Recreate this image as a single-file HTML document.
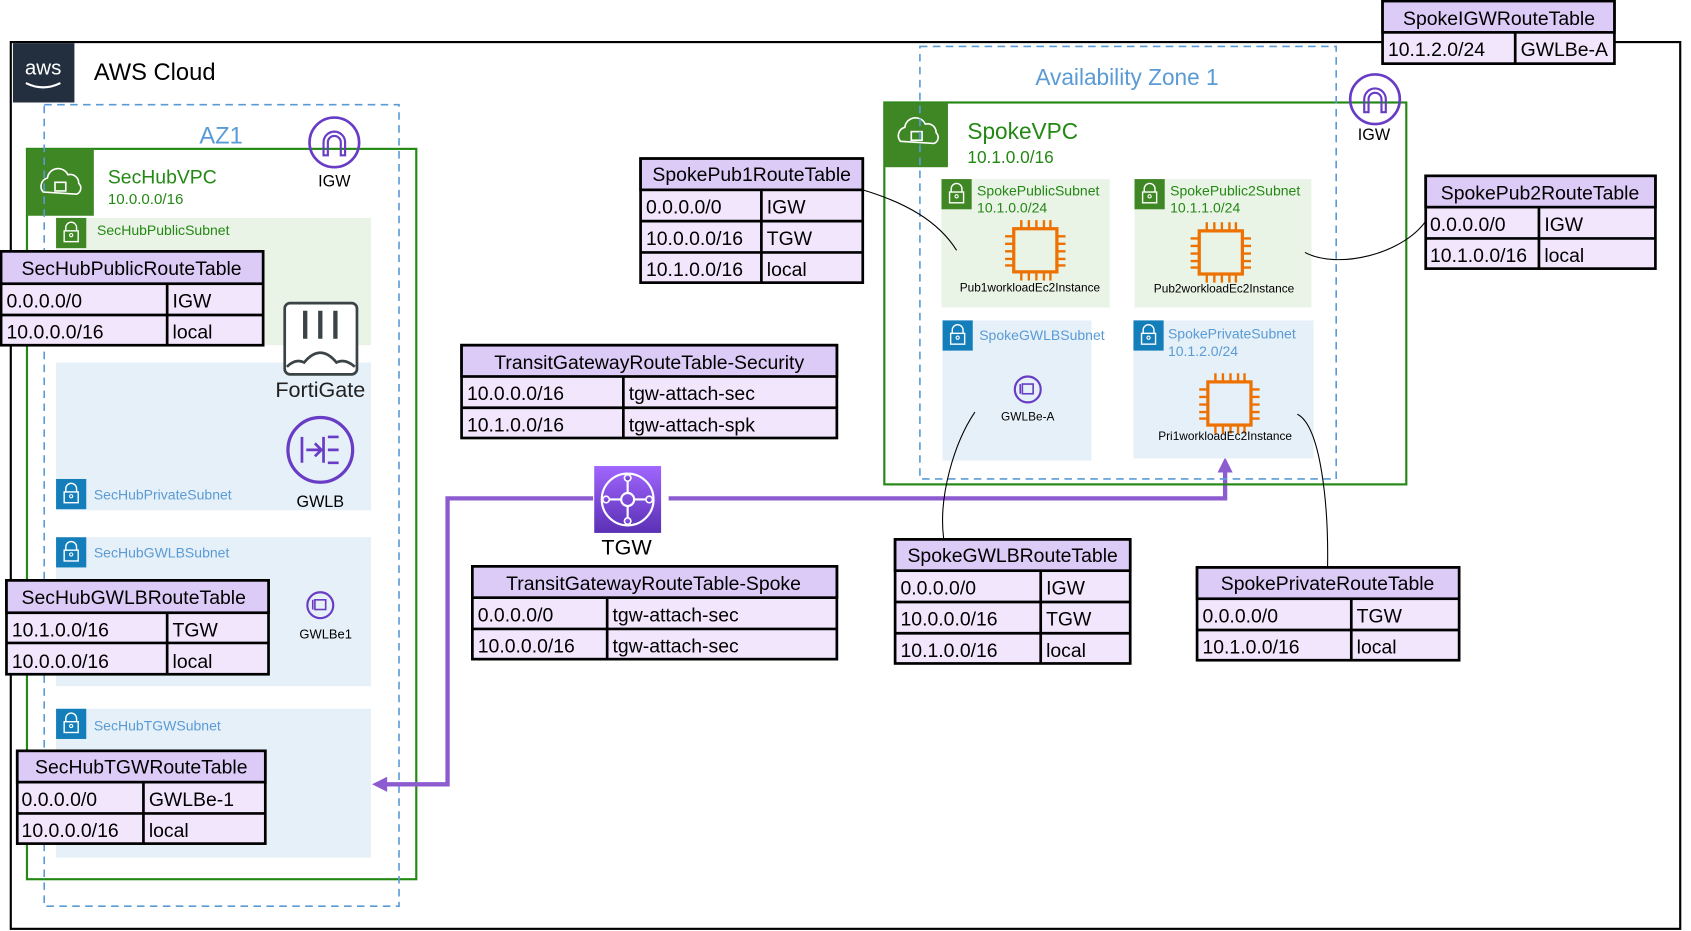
<!DOCTYPE html>
<html><head><meta charset="utf-8"><style>
html,body{margin:0;padding:0;background:#fff;width:1691px;height:931px;overflow:hidden}
svg{display:block}
text{font-family:"Liberation Sans",sans-serif}
.th{font-size:18px;fill:#000}
.td{font-size:18px;fill:#000}
</style></head><body>
<svg width="1691" height="931" viewBox="0 0 1568 863" preserveAspectRatio="none" xmlns="http://www.w3.org/2000/svg">
<defs>
<g id="lockg"><rect x="0" y="0" width="28" height="28" fill="#3f8624"/><path d="M9 12 v-3 a5 5 0 0 1 10 0 v3" fill="none" stroke="#fff" stroke-width="1.3"/><rect x="7.5" y="12" width="13" height="10" fill="none" stroke="#fff" stroke-width="1.3"/><circle cx="14" cy="16" r="1.5" fill="none" stroke="#fff"/></g>
<g id="lockb"><rect x="0" y="0" width="28" height="28" fill="#147eba"/><path d="M9 12 v-3 a5 5 0 0 1 10 0 v3" fill="none" stroke="#fff" stroke-width="1.3"/><rect x="7.5" y="12" width="13" height="10" fill="none" stroke="#fff" stroke-width="1.3"/><circle cx="14" cy="16" r="1.5" fill="none" stroke="#fff"/></g>
<g id="ec2"><rect x="-20" y="-20" width="40" height="40" fill="none" stroke="#ed7100" stroke-width="3"/>
<path d="M-13 -20v-8M-6 -20v-8M1 -20v-8M8 -20v-8M14 -20v-8M-13 20v8M-6 20v8M1 20v8M8 20v8M14 20v8M-20 -13h-8M-20 -6h-8M-20 1h-8M-20 8h-8M-20 14h-8M20 -13h8M20 -6h8M20 1h8M20 8h8M20 14h8" stroke="#ed7100" stroke-width="2.2"/></g>
<g id="igw"><circle r="23" fill="none" stroke="#693cc5" stroke-width="2.5"/><path d="M-10 12v-12a10 10 0 0 1 20 0v12h-4v-12a6 6 0 0 0-12 0v12z" fill="none" stroke="#693cc5" stroke-width="2"/></g>
<g id="ep"><circle r="12" fill="none" stroke="#693cc5" stroke-width="2"/><rect x="-5" y="-5" width="10" height="9" fill="none" stroke="#693cc5" stroke-width="1.5"/><path d="M-7 -5v9" stroke="#693cc5" stroke-width="1.5"/></g>
<linearGradient id="tg" x1="0" y1="0" x2="0" y2="1"><stop offset="0" stop-color="#a166ff"/><stop offset="1" stop-color="#5a30b5"/></linearGradient>
</defs>

<!-- AWS Cloud -->
<rect x="10" y="39" width="1548" height="822" fill="none" stroke="#000" stroke-width="2"/>
<rect x="12" y="40" width="57" height="55" fill="#232f3e"/>
<text x="40" y="69" fill="#fff" font-size="19" text-anchor="middle">aws</text>
<path d="M24 77 q16 8 32 0" fill="none" stroke="#fff" stroke-width="2"/>
<text x="87" y="74" font-size="22">AWS Cloud</text>

<!-- SecHub VPC -->
<rect x="25" y="138" width="361" height="677" fill="none" stroke="#248814" stroke-width="2"/>
<rect x="25" y="138" width="62" height="62" fill="#3f8624"/>
<path d="M40 178 a8 8 0 0 1 4-13 a10 10 0 0 1 19 -3 a8 8 0 0 1 10 8 a6 6 0 0 1 -2 10 z" fill="none" stroke="#fff" stroke-width="1.5"/>
<rect x="51" y="169" width="10" height="8" fill="none" stroke="#fff" stroke-width="1.5"/>
<text x="100" y="170" font-size="18" fill="#248814">SecHubVPC</text>
<text x="100" y="189" font-size="14" fill="#248814">10.0.0.0/16</text>

<rect x="52" y="202" width="292" height="118" fill="#e9f3e6"/>
<use href="#lockg" x="52" y="202"/>
<text x="90" y="218" font-size="13" fill="#248814">SecHubPublicSubnet</text>

<rect x="52" y="336" width="292" height="137" fill="#e6f0f8"/>
<use href="#lockb" x="52" y="444"/>
<text x="87" y="463" font-size="13" fill="#5a9bd5">SecHubPrivateSubnet</text>

<rect x="52" y="498" width="292" height="138" fill="#e6f0f8"/>
<use href="#lockb" x="52" y="498"/>
<text x="87" y="517" font-size="13" fill="#5a9bd5">SecHubGWLBSubnet</text>

<rect x="52" y="657" width="292" height="138" fill="#e6f0f8"/>
<use href="#lockb" x="52" y="657"/>
<text x="87" y="677" font-size="13" fill="#5a9bd5">SecHubTGWSubnet</text>

<!-- AZ1 -->
<rect x="41" y="97" width="329" height="743" fill="none" stroke="#5a9bd5" stroke-width="1.5" stroke-dasharray="7,5"/>
<text x="205" y="133" font-size="22" fill="#5a9bd5" text-anchor="middle">AZ1</text>

<use href="#igw" x="310" y="132"/>
<text x="310" y="173" font-size="15" text-anchor="middle">IGW</text>

<!-- FortiGate -->
<rect x="264" y="281" width="67" height="66" rx="5" fill="#fff" stroke="#3a4447" stroke-width="2.5"/>
<path d="M283 288v26M297 288v26M311 288v26" stroke="#3a4447" stroke-width="4"/>
<path d="M266 340 q8-8 16-4 q15-18 30 0 q8-4 17 4" fill="none" stroke="#3a4447" stroke-width="2.5"/>
<text x="297" y="368" font-size="20" text-anchor="middle" fill="#222">FortiGate</text>

<!-- GWLB -->
<circle cx="297" cy="417" r="30" fill="none" stroke="#693cc5" stroke-width="3"/>
<path d="M280 405v24M284 417h14M292 411l6 6-6 6M304 405h10M304 417h10M304 429h10M300 405v24" fill="none" stroke="#693cc5" stroke-width="2.5"/>
<text x="297" y="470" font-size="15" text-anchor="middle">GWLB</text>

<use href="#ep" x="297" y="561"/>
<text x="302" y="592" font-size="12" text-anchor="middle">GWLBe1</text>

<!-- Tables left -->
<g>
<rect x="1" y="233" width="243" height="87" fill="#f2e6fc" stroke="#000" stroke-width="2.5"/>
<rect x="1" y="233" width="243" height="30" fill="#dccbf6" stroke="#000" stroke-width="2.5"/>
<line x1="1" y1="292" x2="244" y2="292" stroke="#000" stroke-width="2.5"/>
<line x1="155" y1="263" x2="155" y2="320" stroke="#000" stroke-width="2.5"/>
<text class="th" x="122" y="255" text-anchor="middle">SecHubPublicRouteTable</text>
<text class="td" x="6" y="285">0.0.0.0/0</text><text class="td" x="160" y="285">IGW</text>
<text class="td" x="6" y="314">10.0.0.0/16</text><text class="td" x="160" y="314">local</text>
</g>
<g>
<rect x="6" y="538" width="243" height="87" fill="#f2e6fc" stroke="#000" stroke-width="2.5"/>
<rect x="6" y="538" width="243" height="30" fill="#dccbf6" stroke="#000" stroke-width="2.5"/>
<line x1="6" y1="596" x2="249" y2="596" stroke="#000" stroke-width="2.5"/>
<line x1="155" y1="568" x2="155" y2="625" stroke="#000" stroke-width="2.5"/>
<text class="th" x="124" y="560" text-anchor="middle">SecHubGWLBRouteTable</text>
<text class="td" x="11" y="590">10.1.0.0/16</text><text class="td" x="160" y="590">TGW</text>
<text class="td" x="11" y="619">10.0.0.0/16</text><text class="td" x="160" y="619">local</text>
</g>
<g>
<rect x="16" y="696" width="230" height="86" fill="#f2e6fc" stroke="#000" stroke-width="2.5"/>
<rect x="16" y="696" width="230" height="29" fill="#dccbf6" stroke="#000" stroke-width="2.5"/>
<line x1="16" y1="754" x2="246" y2="754" stroke="#000" stroke-width="2.5"/>
<line x1="133" y1="725" x2="133" y2="782" stroke="#000" stroke-width="2.5"/>
<text class="th" x="131" y="717" text-anchor="middle">SecHubTGWRouteTable</text>
<text class="td" x="20" y="747">0.0.0.0/0</text><text class="td" x="138" y="747">GWLBe-1</text>
<text class="td" x="20" y="776">10.0.0.0/16</text><text class="td" x="138" y="776">local</text>
</g>

<!-- TGW connectors -->
<path d="M550 462 H415 V727 H358" fill="none" stroke="#8c5bd0" stroke-width="4"/>
<path d="M345 727 l14 -7 v14 z" fill="#8c5bd0"/>
<path d="M620 462 H1136 V437" fill="none" stroke="#8c5bd0" stroke-width="4"/>
<path d="M1136 424 l-7 14 h14 z" fill="#8c5bd0"/>

<!-- TGW -->
<rect x="551" y="432" width="62" height="62" fill="url(#tg)"/>
<circle cx="582" cy="463" r="24" fill="none" stroke="#fff" stroke-width="2"/>
<circle cx="582" cy="463" r="6" fill="none" stroke="#fff" stroke-width="2"/>
<path d="M582 444v13M582 469v13M563 463h13M588 463h13" stroke="#fff" stroke-width="2"/>
<circle cx="582" cy="443" r="3" fill="url(#tg)" stroke="#fff" stroke-width="1.5"/>
<circle cx="582" cy="483" r="3" fill="url(#tg)" stroke="#fff" stroke-width="1.5"/>
<circle cx="562" cy="463" r="3" fill="url(#tg)" stroke="#fff" stroke-width="1.5"/>
<circle cx="602" cy="463" r="3" fill="url(#tg)" stroke="#fff" stroke-width="1.5"/>
<text x="581" y="514" font-size="20" text-anchor="middle">TGW</text>

<!-- TGW tables -->
<g>
<rect x="428" y="320" width="348" height="86" fill="#f2e6fc" stroke="#000" stroke-width="2.5"/>
<rect x="428" y="320" width="348" height="29" fill="#dccbf6" stroke="#000" stroke-width="2.5"/>
<line x1="428" y1="378" x2="776" y2="378" stroke="#000" stroke-width="2.5"/>
<line x1="578" y1="349" x2="578" y2="406" stroke="#000" stroke-width="2.5"/>
<text class="th" x="602" y="342" text-anchor="middle">TransitGatewayRouteTable-Security</text>
<text class="td" x="433" y="371">10.0.0.0/16</text><text class="td" x="583" y="371">tgw-attach-sec</text>
<text class="td" x="433" y="400">10.1.0.0/16</text><text class="td" x="583" y="400">tgw-attach-spk</text>
</g>
<g>
<rect x="438" y="525" width="338" height="86" fill="#f2e6fc" stroke="#000" stroke-width="2.5"/>
<rect x="438" y="525" width="338" height="29" fill="#dccbf6" stroke="#000" stroke-width="2.5"/>
<line x1="438" y1="583" x2="776" y2="583" stroke="#000" stroke-width="2.5"/>
<line x1="563" y1="554" x2="563" y2="611" stroke="#000" stroke-width="2.5"/>
<text class="th" x="606" y="547" text-anchor="middle">TransitGatewayRouteTable-Spoke</text>
<text class="td" x="443" y="576">0.0.0.0/0</text><text class="td" x="568" y="576">tgw-attach-sec</text>
<text class="td" x="443" y="605">10.0.0.0/16</text><text class="td" x="568" y="605">tgw-attach-sec</text>
</g>

<!-- Spoke VPC -->
<rect x="820" y="95" width="484" height="354" fill="none" stroke="#248814" stroke-width="2"/>
<rect x="820" y="95" width="59" height="60" fill="#3f8624"/>
<path d="M835 131 a8 8 0 0 1 4-13 a10 10 0 0 1 19 -3 a8 8 0 0 1 10 8 a6 6 0 0 1 -2 10 z" fill="none" stroke="#fff" stroke-width="1.5"/>
<rect x="845" y="122" width="10" height="8" fill="none" stroke="#fff" stroke-width="1.5"/>
<text x="897" y="129" font-size="21" fill="#248814">SpokeVPC</text>
<text x="897" y="151" font-size="16" fill="#248814">10.1.0.0/16</text>

<rect x="873" y="166" width="156" height="119" fill="#e9f3e6"/>
<use href="#lockg" x="873" y="166"/>
<text x="906" y="181" font-size="13" fill="#248814">SpokePublicSubnet</text>
<text x="906" y="197" font-size="13" fill="#248814">10.1.0.0/24</text>
<use href="#ec2" x="960" y="232"/>
<text x="955" y="270" font-size="11" text-anchor="middle">Pub1workloadEc2Instance</text>

<rect x="1052" y="166" width="164" height="119" fill="#e9f3e6"/>
<use href="#lockg" x="1052" y="166"/>
<text x="1085" y="181" font-size="13" fill="#248814">SpokePublic2Subnet</text>
<text x="1085" y="197" font-size="13" fill="#248814">10.1.1.0/24</text>
<use href="#ec2" x="1132" y="234"/>
<text x="1135" y="271" font-size="11" text-anchor="middle">Pub2workloadEc2Instance</text>

<rect x="874" y="297" width="138" height="130" fill="#e6f0f8"/>
<use href="#lockb" x="874" y="297"/>
<text x="908" y="315" font-size="13" fill="#5a9bd5">SpokeGWLBSubnet</text>
<use href="#ep" x="953" y="361"/>
<text x="953" y="390" font-size="11" text-anchor="middle">GWLBe-A</text>

<rect x="1051" y="297" width="167" height="128" fill="#e6f0f8"/>
<use href="#lockb" x="1051" y="297"/>
<text x="1083" y="314" font-size="13" fill="#5a9bd5">SpokePrivateSubnet</text>
<text x="1083" y="330" font-size="13" fill="#5a9bd5">10.1.2.0/24</text>
<use href="#ec2" x="1140" y="374"/>
<text x="1136" y="408" font-size="11" text-anchor="middle">Pri1workloadEc2Instance</text>

<rect x="853" y="43" width="386" height="401" fill="none" stroke="#5a9bd5" stroke-width="1.5" stroke-dasharray="7,5"/>
<text x="1045" y="79" font-size="21" fill="#5a9bd5" text-anchor="middle">Availability Zone 1</text>

<use href="#igw" x="1275" y="92"/>
<text x="1274" y="130" font-size="15" text-anchor="middle">IGW</text>

<!-- curves -->
<path d="M800 176 C840 188 870 205 887 232" fill="none" stroke="#000" stroke-width="1"/>
<path d="M1210 234 C1240 250 1300 236 1322 205" fill="none" stroke="#000" stroke-width="1"/>
<path d="M904 382 C885 410 870 460 875 499" fill="none" stroke="#000" stroke-width="1"/>
<path d="M1203 384 C1225 395 1232 470 1231 526" fill="none" stroke="#000" stroke-width="1"/>

<!-- Spoke tables -->
<g>
<rect x="594" y="147" width="206" height="115" fill="#f2e6fc" stroke="#000" stroke-width="2.5"/>
<rect x="594" y="147" width="206" height="29" fill="#dccbf6" stroke="#000" stroke-width="2.5"/>
<line x1="594" y1="205" x2="800" y2="205" stroke="#000" stroke-width="2.5"/>
<line x1="594" y1="234" x2="800" y2="234" stroke="#000" stroke-width="2.5"/>
<line x1="706" y1="176" x2="706" y2="262" stroke="#000" stroke-width="2.5"/>
<text class="th" x="697" y="168" text-anchor="middle">SpokePub1RouteTable</text>
<text class="td" x="599" y="198">0.0.0.0/0</text><text class="td" x="711" y="198">IGW</text>
<text class="td" x="599" y="227">10.0.0.0/16</text><text class="td" x="711" y="227">TGW</text>
<text class="td" x="599" y="256">10.1.0.0/16</text><text class="td" x="711" y="256">local</text>
</g>
<g>
<rect x="1282" y="1" width="215" height="58" fill="#f2e6fc" stroke="#000" stroke-width="2.5"/>
<rect x="1282" y="1" width="215" height="29" fill="#dccbf6" stroke="#000" stroke-width="2.5"/>
<line x1="1405" y1="30" x2="1405" y2="59" stroke="#000" stroke-width="2.5"/>
<text class="th" x="1390" y="23" text-anchor="middle">SpokeIGWRouteTable</text>
<text class="td" x="1287" y="52">10.1.2.0/24</text><text class="td" x="1410" y="52">GWLBe-A</text>
</g>
<g>
<rect x="1322" y="163" width="213" height="86" fill="#f2e6fc" stroke="#000" stroke-width="2.5"/>
<rect x="1322" y="163" width="213" height="29" fill="#dccbf6" stroke="#000" stroke-width="2.5"/>
<line x1="1322" y1="221" x2="1535" y2="221" stroke="#000" stroke-width="2.5"/>
<line x1="1427" y1="192" x2="1427" y2="249" stroke="#000" stroke-width="2.5"/>
<text class="th" x="1428" y="185" text-anchor="middle">SpokePub2RouteTable</text>
<text class="td" x="1326" y="214">0.0.0.0/0</text><text class="td" x="1432" y="214">IGW</text>
<text class="td" x="1326" y="243">10.1.0.0/16</text><text class="td" x="1432" y="243">local</text>
</g>
<g>
<rect x="830" y="500" width="218" height="115" fill="#f2e6fc" stroke="#000" stroke-width="2.5"/>
<rect x="830" y="500" width="218" height="29" fill="#dccbf6" stroke="#000" stroke-width="2.5"/>
<line x1="830" y1="558" x2="1048" y2="558" stroke="#000" stroke-width="2.5"/>
<line x1="830" y1="587" x2="1048" y2="587" stroke="#000" stroke-width="2.5"/>
<line x1="965" y1="529" x2="965" y2="615" stroke="#000" stroke-width="2.5"/>
<text class="th" x="939" y="521" text-anchor="middle">SpokeGWLBRouteTable</text>
<text class="td" x="835" y="551">0.0.0.0/0</text><text class="td" x="970" y="551">IGW</text>
<text class="td" x="835" y="580">10.0.0.0/16</text><text class="td" x="970" y="580">TGW</text>
<text class="td" x="835" y="609">10.1.0.0/16</text><text class="td" x="970" y="609">local</text>
</g>
<g>
<rect x="1110" y="526" width="243" height="86" fill="#f2e6fc" stroke="#000" stroke-width="2.5"/>
<rect x="1110" y="526" width="243" height="29" fill="#dccbf6" stroke="#000" stroke-width="2.5"/>
<line x1="1110" y1="584" x2="1353" y2="584" stroke="#000" stroke-width="2.5"/>
<line x1="1253" y1="555" x2="1253" y2="612" stroke="#000" stroke-width="2.5"/>
<text class="th" x="1231" y="547" text-anchor="middle">SpokePrivateRouteTable</text>
<text class="td" x="1115" y="577">0.0.0.0/0</text><text class="td" x="1258" y="577">TGW</text>
<text class="td" x="1115" y="606">10.1.0.0/16</text><text class="td" x="1258" y="606">local</text>
</g>
</svg>
</body></html>
